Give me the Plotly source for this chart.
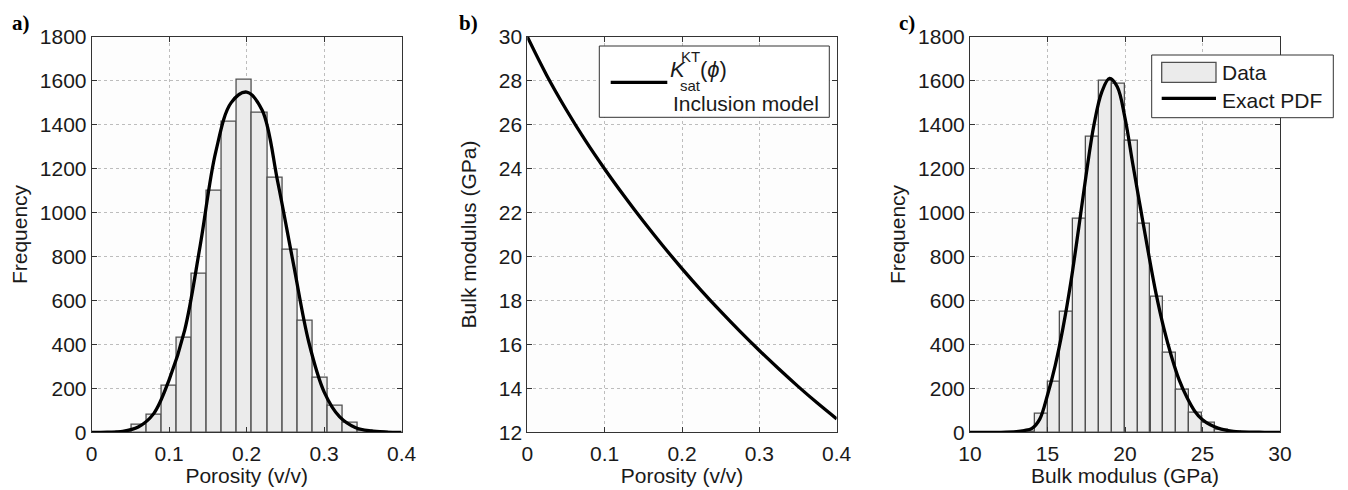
import plotly.graph_objects as go

# panel a: porosity histogram + exact pdf
PHI_BIN_CENTERS = [0.0225, 0.0419, 0.0613, 0.0807, 0.1002, 0.1196, 0.1390, 0.1585, 0.1779, 0.1973,
                   0.2168, 0.2362, 0.2556, 0.2750, 0.2945, 0.3139, 0.3333, 0.3528, 0.3722]
PHI_COUNTS = [0, 4, 36, 80, 210, 432, 720, 1100, 1412, 1606, 1452, 1160, 830, 509, 250, 122, 42, 9, 1]
PHI_BIN_WIDTH = 0.01943
PHI_PDF_X = [0.0, 0.02, 0.04, 0.06, 0.08, 0.10, 0.12, 0.14, 0.16, 0.18, 0.20,
             0.22, 0.24, 0.26, 0.28, 0.30, 0.32, 0.34, 0.36, 0.38, 0.40]
PHI_PDF_Y = [0, 1, 4, 24, 85, 240, 465, 850, 1275, 1500, 1548,
             1465, 1140, 772, 412, 183, 70, 22, 6, 1, 0]
PHI_TICKS = [0, 0.1, 0.2, 0.3, 0.4]
PHI_TICK_LABELS = ['0', '0.1', '0.2', '0.3', '0.4']

# panel b: inclusion model K_sat(phi)
KT_PHI = [0.0, 0.025, 0.05, 0.075, 0.1, 0.125, 0.15, 0.175, 0.2, 0.225, 0.25, 0.275, 0.3, 0.325, 0.35,
          0.375, 0.4]
KT_KSAT = [30.0, 28.25, 26.70, 25.28, 23.98, 22.76, 21.60, 20.50, 19.45, 18.45, 17.50, 16.59, 15.72, 14.89,
           14.09, 13.33, 12.61]

# panel c: bulk modulus histogram + exact pdf
K_BIN_CENTERS = [12.94, 13.77, 14.59, 15.42, 16.25, 17.08, 17.91, 18.74, 19.57, 20.40, 21.23, 22.06,
                 22.89, 23.72, 24.55, 25.38, 26.21, 27.04]
K_COUNTS = [0, 1, 83, 231, 548, 973, 1347, 1600, 1587, 1327, 949, 616, 360, 196, 91, 45, 12, 2]
K_BIN_WIDTH = 0.829
K_PDF_X = [10, 12, 13, 13.5, 14, 14.5, 15, 15.5, 16, 16.5, 17, 17.5, 18, 18.5, 19, 19.5, 20, 20.5, 21,
           21.5, 22, 22.5, 23, 23.5, 24, 24.5, 25, 25.5, 26, 26.5, 27, 27.5, 28, 29, 30]
K_PDF_Y = [0, 0, 3, 8, 18, 60, 170, 305, 475, 680, 923, 1175, 1400, 1548, 1610, 1572, 1430, 1222, 1020,
           820, 632, 475, 345, 237, 158, 96, 57, 34, 19, 10, 4, 2, 1, 0, 0]

# the page body keeps its 8px margin, so the figure is drawn 8px in from the window corner
OFF = 8
W, H = 1348 - OFF, 490 - OFF
FONT = 'Liberation Sans, Arial, sans-serif'
LINE = '#333333'
TXT = '#1a1a1a'
FS = 21


def px(x):
    return (x - OFF) / W


def py(y):
    return 1 - (y - OFF) / H


def axis_style(rng, domain, anchor, title, standoff, **kw):
    d = dict(range=rng, domain=domain, anchor=anchor, automargin=False,
             showline=True, linecolor=LINE, linewidth=1, mirror='ticks',
             ticks='inside', ticklen=5, tickcolor=LINE, tickwidth=1,
             showgrid=True, gridcolor='#bdbdbd', griddash='dot', gridwidth=1,
             zeroline=False, tickfont=dict(family=FONT, size=FS, color=TXT),
             title=dict(text=title, font=dict(family=FONT, size=FS, color=TXT), standoff=standoff))
    d.update(kw)
    return d


bar_style = dict(marker=dict(color='#ebebeb', line=dict(color='#505050', width=1.3)), showlegend=False)
pdf_style = dict(mode='lines', line=dict(color='black', width=3.3, shape='spline'), showlegend=False)

fig = go.Figure()
fig.add_trace(go.Bar(x=PHI_BIN_CENTERS, y=PHI_COUNTS, width=PHI_BIN_WIDTH, xaxis='x', yaxis='y', **bar_style))
fig.add_trace(go.Scatter(x=PHI_PDF_X, y=PHI_PDF_Y, xaxis='x', yaxis='y', **pdf_style))
fig.add_trace(go.Scatter(x=KT_PHI, y=KT_KSAT, xaxis='x2', yaxis='y2', **pdf_style))
fig.add_trace(go.Bar(x=K_BIN_CENTERS, y=K_COUNTS, width=K_BIN_WIDTH, xaxis='x3', yaxis='y3', **bar_style))
fig.add_trace(go.Scatter(x=K_PDF_X, y=K_PDF_Y, xaxis='x3', yaxis='y3', **pdf_style))

ydom = [py(432.3), py(36.7)]
fig.update_layout(
    template='none', width=W, height=H, margin=dict(l=0, r=0, t=0, b=0),
    paper_bgcolor='white', plot_bgcolor='#fdfdfd', bargap=0,
    xaxis=axis_style([0, 0.4], [px(91.7), px(401.7)], 'y', 'Porosity (v/v)', 1,
                     tickvals=PHI_TICKS, ticktext=PHI_TICK_LABELS, ticklabelstandoff=2),
    yaxis=axis_style([0, 1800], ydom, 'x', 'Frequency', 6, dtick=200, ticklabelstandoff=0),
    xaxis2=axis_style([0, 0.4], [px(527.3), px(836.7)], 'y2', 'Porosity (v/v)', 1,
                      tickvals=PHI_TICKS, ticktext=PHI_TICK_LABELS, ticklabelstandoff=2),
    yaxis2=axis_style([12, 30], ydom, 'x2', 'Bulk modulus (GPa)', 16, dtick=2, ticklabelstandoff=0),
    xaxis3=axis_style([10, 30], [px(970), px(1280)], 'y3', 'Bulk modulus (GPa)', 1, dtick=5,
                      ticklabelstandoff=2),
    yaxis3=axis_style([0, 1800], ydom, 'x3', 'Frequency', 6, dtick=200, ticklabelstandoff=0),
)

# panel letters
for txt, x in [('a)', 10), ('b)', 457), ('c)', 897)]:
    fig.add_annotation(x=px(x), y=py(23), xref='paper', yref='paper', text=f'<b>{txt}</b>', showarrow=False,
                       xanchor='left', yanchor='middle',
                       font=dict(family='Liberation Serif, Times New Roman, serif', size=21, color='black'))

# legend of panel b
fig.add_shape(type='rect', xref='paper', yref='paper', x0=px(599.3), x1=px(829.3), y0=py(117.3), y1=py(46),
              line=dict(color=LINE, width=1), fillcolor='white')
fig.add_shape(type='line', xref='paper', yref='paper', x0=px(610.7), x1=px(667.3), y0=py(82.3), y1=py(82.3),
              line=dict(color='black', width=3.3))
txt_font = dict(family=FONT, size=FS, color=TXT)
big_font = dict(family=FONT, size=22, color=TXT)
small_font = dict(family=FONT, size=15, color=TXT)
fig.add_annotation(x=px(668), y=py(70), xref='paper', yref='paper', text='<i>K</i>', showarrow=False,
                   xanchor='left', yanchor='middle', font=big_font)
fig.add_annotation(x=px(679), y=py(57), xref='paper', yref='paper', text='KT', showarrow=False,
                   xanchor='left', yanchor='middle', font=small_font)
fig.add_annotation(x=px(678), y=py(86), xref='paper', yref='paper', text='sat', showarrow=False,
                   xanchor='left', yanchor='middle', font=small_font)
fig.add_annotation(x=px(698), y=py(70), xref='paper', yref='paper', text='(<i>ϕ</i>)', showarrow=False,
                   xanchor='left', yanchor='middle', font=big_font)
fig.add_annotation(x=px(671), y=py(103.5), xref='paper', yref='paper', text='Inclusion model', showarrow=False,
                   xanchor='left', yanchor='middle', font=txt_font)

# legend of panel c
fig.add_shape(type='rect', xref='paper', yref='paper', x0=px(1151.7), x1=px(1333.3), y0=py(117.7), y1=py(55),
              line=dict(color=LINE, width=1), fillcolor='white')
fig.add_shape(type='rect', xref='paper', yref='paper', x0=px(1161.7), x1=px(1216), y0=py(82.3), y1=py(62.3),
              line=dict(color='#505050', width=1.3), fillcolor='#ebebeb')
fig.add_shape(type='line', xref='paper', yref='paper', x0=px(1161.7), x1=px(1216), y0=py(98.3), y1=py(98.3),
              line=dict(color='black', width=3.3))
fig.add_annotation(x=px(1220), y=py(72.5), xref='paper', yref='paper', text='Data', showarrow=False,
                   xanchor='left', yanchor='middle', font=txt_font)
fig.add_annotation(x=px(1220), y=py(100.5), xref='paper', yref='paper', text='Exact PDF', showarrow=False,
                   xanchor='left', yanchor='middle', font=txt_font)

fig.write_html("out.html")
